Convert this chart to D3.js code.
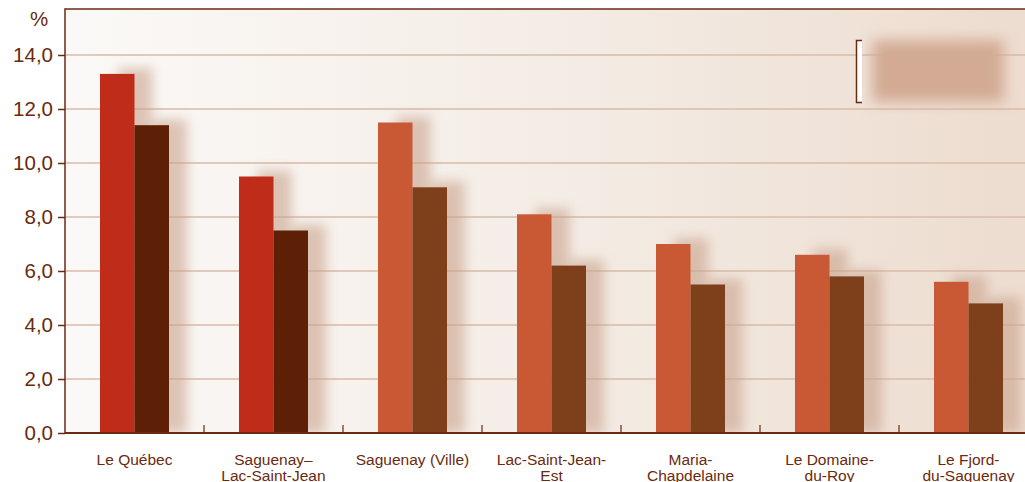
<!DOCTYPE html>
<html><head><meta charset="utf-8">
<script src="https://cdn.jsdelivr.net/npm/d3@7"></script>
<style>body{margin:0;background:#fff}svg{display:block}</style>
</head><body>
<svg id="c" width="1025" height="482"></svg>
<script>
const categories = [["Le Québec"],["Saguenay–","Lac-Saint-Jean"],["Saguenay (Ville)"],["Lac-Saint-Jean-","Est"],["Maria-","Chapdelaine"],["Le Domaine-","du-Roy"],["Le Fjord-","du-Saguenay"]];
const series1 = [13.3, 9.5, 11.5, 8.1, 7.0, 6.6, 5.6];
const series2 = [11.4, 7.5, 9.1, 6.2, 5.5, 5.8, 4.8];
const yTicks = [0,2,4,6,8,10,12,14];
const colors1 = ["#bf2d1a","#bf2d1a","#c95835","#c95835","#c95835","#c95835","#c95835"];
const colors2 = ["#5e1f07","#5e1f07","#7d401b","#7d401b","#7d401b","#7d401b","#7d401b"];

const svg = d3.select("#c");
const mLeft = 65, mTop = 9, mBottom = 433;
const bandW = 139;
const x = d3.scaleBand().domain(d3.range(categories.length)).range([mLeft, mLeft + bandW*categories.length]).paddingInner(0).paddingOuter(0);
const y = d3.scaleLinear().domain([0, 14]).range([mBottom, 55]);
const ink = "#6a2a10";
const font = "Liberation Sans, Arial, Helvetica, sans-serif";

const defs = svg.append("defs");
const lg = defs.append("linearGradient").attr("id","bg").attr("x1","0").attr("x2","1");
lg.append("stop").attr("offset","0").attr("stop-color","#fbf9f7");
lg.append("stop").attr("offset","0.5").attr("stop-color","#f4ede6");
lg.append("stop").attr("offset","1").attr("stop-color","#eddccf");
defs.append("filter").attr("id","sh").attr("x","-60%").attr("y","-50%").attr("width","220%").attr("height","200%")
  .append("feGaussianBlur").attr("stdDeviation",6);
defs.append("filter").attr("id","lb").attr("x","-30%").attr("y","-50%").attr("width","160%").attr("height","200%")
  .append("feGaussianBlur").attr("stdDeviation",7);

svg.append("rect").attr("x",mLeft).attr("y",mTop).attr("width",1025-mLeft).attr("height",mBottom-mTop).attr("fill","url(#bg)");

svg.append("g").selectAll("line").data(yTicks.filter(d=>d>0)).join("line")
  .attr("x1",mLeft).attr("x2",1025).attr("y1",d=>y(d)).attr("y2",d=>y(d))
  .attr("stroke","#d9bba8").attr("stroke-width",1.5);

// legend (blurred)
svg.append("rect").attr("x",872).attr("y",40).attr("width",132).attr("height",62).attr("fill","#d3ab94").attr("filter","url(#lb)");
svg.append("rect").attr("x",856).attr("y",40).attr("width",6).attr("height",63).attr("fill","#fff");
svg.append("path").attr("d","M862,40.5 H856.5 V102.5 H862").attr("fill","none").attr("stroke",ink).attr("stroke-width",1.5);

// bars
const sub = d3.scaleBand().domain([0,1]).range([35, bandW-35]);
const groups = svg.append("g").selectAll("g").data(categories).join("g")
  .attr("transform",(d,i)=>`translate(${x(i)},0)`);
groups.append("rect").attr("x",sub(0)+18).attr("width",sub.bandwidth()).attr("y",(d,i)=>y(series1[i])-6).attr("height",(d,i)=>mBottom-y(series1[i])+6).attr("fill","#c9a28c").attr("opacity",0.6).attr("filter","url(#sh)");
groups.append("rect").attr("x",sub(1)+18).attr("width",sub.bandwidth()).attr("y",(d,i)=>y(series2[i])-6).attr("height",(d,i)=>mBottom-y(series2[i])+6).attr("fill","#c9a28c").attr("opacity",0.6).attr("filter","url(#sh)");
groups.append("rect").attr("x",sub(0)).attr("width",sub.bandwidth()).attr("y",(d,i)=>y(series1[i])).attr("height",(d,i)=>mBottom-y(series1[i])).attr("fill",(d,i)=>colors1[i]);
groups.append("rect").attr("x",sub(1)).attr("width",sub.bandwidth()).attr("y",(d,i)=>y(series2[i])).attr("height",(d,i)=>mBottom-y(series2[i])).attr("fill",(d,i)=>colors2[i]);

svg.append("rect").attr("x",0).attr("y",mBottom+1).attr("width",1025).attr("height",482-mBottom).attr("fill","#fff");

svg.append("line").attr("x1",mLeft).attr("x2",1025).attr("y1",mTop).attr("y2",mTop).attr("stroke",ink).attr("stroke-width",1.5);

// y axis
const ya = svg.append("g").attr("transform",`translate(${mLeft},0)`)
  .call(d3.axisLeft(y).tickValues(yTicks).tickSize(7).tickPadding(5).tickFormat(d=>d3.format(".1f")(d).replace(".",",")));
ya.select(".domain").remove();
ya.selectAll("line").attr("stroke",ink).attr("stroke-width",1.5);
ya.selectAll("text").attr("fill",ink).attr("font-family",font).attr("font-size",20.5);
svg.append("line").attr("x1",mLeft).attr("x2",mLeft).attr("y1",mTop-0.75).attr("y2",mBottom+1).attr("stroke",ink).attr("stroke-width",1.5);
svg.append("text").attr("x",39).attr("y",26).attr("text-anchor","middle").attr("fill",ink).attr("font-family",font).attr("font-size",20.5).text("%");

// x axis
svg.append("line").attr("x1",mLeft).attr("x2",1025).attr("y1",mBottom).attr("y2",mBottom).attr("stroke",ink).attr("stroke-width",2);
svg.append("g").selectAll("line").data(d3.range(1,categories.length)).join("line")
  .attr("x1",i=>x(i)).attr("x2",i=>x(i)).attr("y1",mBottom).attr("y2",mBottom-8).attr("stroke",ink).attr("stroke-width",1.2);
const labels = svg.append("g").selectAll("text").data(categories).join("text")
  .attr("x",(d,i)=>x(i)+bandW/2).attr("y",465).attr("text-anchor","middle")
  .attr("fill",ink).attr("font-family",font).attr("font-size",15.5);
labels.selectAll("tspan").data(d=>d).join("tspan")
  .attr("x",function(){return this.parentNode.getAttribute("x");})
  .attr("dy",(d,j)=>j?16:0).text(d=>d);
</script>
</body></html>
